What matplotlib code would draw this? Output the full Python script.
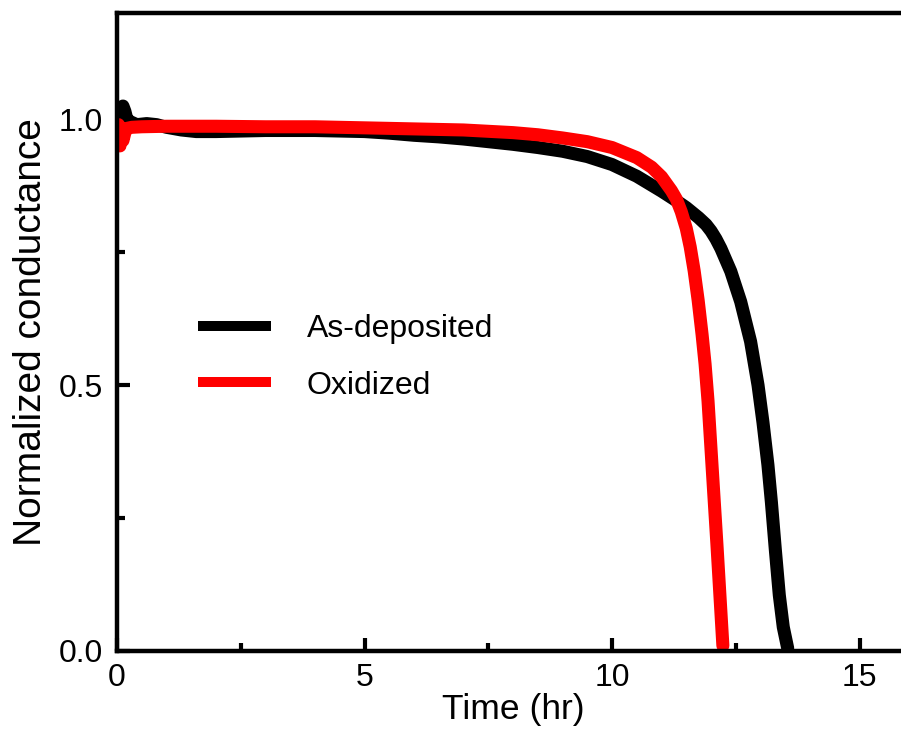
import matplotlib
matplotlib.use("Agg")
import matplotlib.pyplot as plt
from matplotlib.lines import Line2D
from matplotlib.ticker import MultipleLocator, FormatStrFormatter

plt.rcParams["font.family"] = ["Liberation Sans", "DejaVu Sans"]

# Normalized conductance vs. time for the two films
time_as_deposited = [0.0, 0.04, 0.08, 0.12, 0.16, 0.2, 0.28, 0.4, 0.6, 0.8, 1.0, 1.3,
                     1.6, 2.0, 2.5, 3.0, 3.5, 4.0, 4.5, 5.0, 5.5, 6.0, 6.5, 7.0, 7.5,
                     8.0, 8.5, 9.0, 9.5, 10.0, 10.5, 11.0, 11.25, 11.5, 11.75, 11.9,
                     12.0, 12.1, 12.2, 12.4, 12.6, 12.8, 12.95, 13.05, 13.15, 13.22,
                     13.3, 13.38, 13.46, 13.55]
cond_as_deposited = [0.99, 1.0, 1.015, 1.025, 1.015, 1.0, 0.995, 0.99, 0.992, 0.99,
                     0.985, 0.98, 0.977, 0.977, 0.978, 0.979, 0.979, 0.979, 0.978,
                     0.977, 0.974, 0.97, 0.967, 0.963, 0.958, 0.953, 0.947, 0.94,
                     0.93, 0.915, 0.893, 0.865, 0.85, 0.834, 0.815, 0.802, 0.79,
                     0.775, 0.757, 0.714, 0.657, 0.582, 0.5, 0.43, 0.35, 0.28, 0.19,
                     0.105, 0.045, 0.005]

time_oxidized = [0.0, 0.03, 0.06, 0.09, 0.12, 0.16, 0.2, 0.3, 0.5, 1.0, 2.0, 3.0,
                 4.0, 5.0, 6.0, 7.0, 8.0, 8.5, 9.0, 9.5, 10.0, 10.5, 10.8, 11.0,
                 11.2, 11.3, 11.4, 11.5, 11.58, 11.66, 11.74, 11.82, 11.88, 11.94,
                 12.0, 12.06, 12.12, 12.18, 12.24]
cond_oxidized = [0.955, 0.99, 0.95, 0.98, 0.96, 0.975, 0.983, 0.985, 0.986, 0.987,
                 0.987, 0.986, 0.986, 0.984, 0.982, 0.98, 0.975, 0.971, 0.965,
                 0.958, 0.947, 0.928, 0.91, 0.892, 0.866, 0.85, 0.826, 0.795,
                 0.76, 0.715, 0.66, 0.595, 0.54, 0.47, 0.38, 0.29, 0.2, 0.105, 0.01]

series_labels = ["As-deposited", "Oxidized"]
series_colors = ["#000000", "#ff0000"]

fig = plt.figure(figsize=(9.01, 7.54), dpi=100)
ax = fig.add_axes([117 / 901, 103 / 754, 16 * 49.5 / 901, 638 / 754])

ax.plot(time_as_deposited, cond_as_deposited, color=series_colors[0], lw=9.4,
        solid_capstyle="round", solid_joinstyle="round")
ax.plot(time_oxidized, cond_oxidized, color=series_colors[1], lw=9.4,
        solid_capstyle="round", solid_joinstyle="round")

ax.set_xlim(0, 16)
ax.set_ylim(0, 1.2)
ax.xaxis.set_major_locator(MultipleLocator(5))
ax.xaxis.set_minor_locator(MultipleLocator(2.5))
ax.yaxis.set_major_locator(MultipleLocator(0.5))
ax.yaxis.set_minor_locator(MultipleLocator(0.25))
ax.yaxis.set_major_formatter(FormatStrFormatter("%.1f"))

for s in ax.spines.values():
    s.set_linewidth(3.2)
ax.tick_params(which="both", direction="in", width=3, labelsize=23,
               top=False, right=False)
ax.tick_params(which="major", length=9.5, pad=9)
ax.tick_params(which="minor", length=6)
ax.tick_params(axis="y", which="major", pad=10)

ax.set_xlabel("Time (hr)", fontsize=25.5, labelpad=0)
ax.set_ylabel("Normalized conductance", fontsize=28, labelpad=7)

handles = [Line2D([], [], color=c, lw=7.2, solid_capstyle="butt")
           for c in series_colors]
ax.legend(handles, series_labels, loc="upper left",
          bbox_to_anchor=(198 / 901, 1 - 314 / 754), bbox_transform=fig.transFigure,
          frameon=False, borderpad=0, borderaxespad=0, fontsize=23,
          handlelength=2.3, handletextpad=1.1, labelspacing=0.83)

fig.savefig("out.png", dpi=100)
